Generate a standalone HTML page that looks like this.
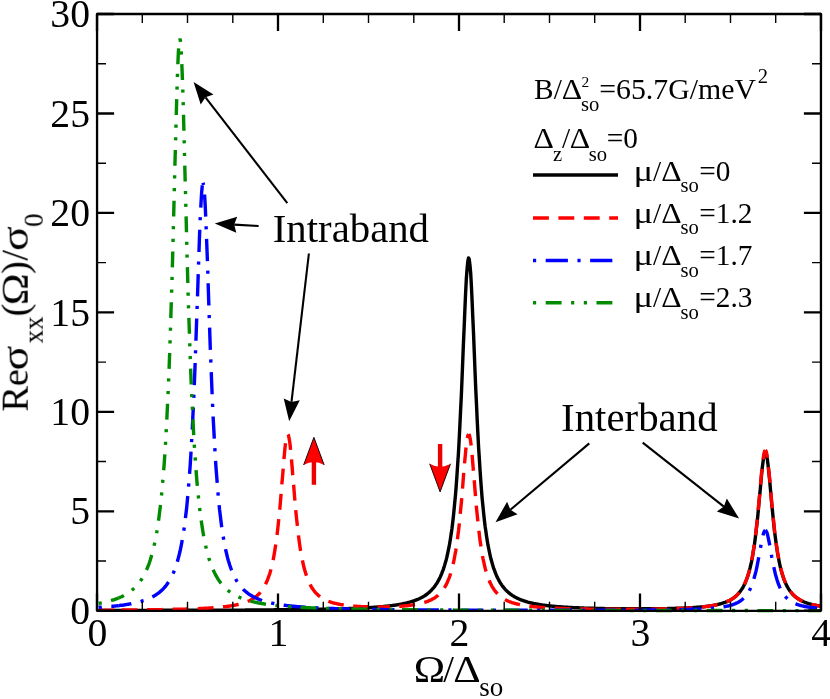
<!DOCTYPE html>
<html><head><meta charset="utf-8"><title>chart</title>
<style>
html,body{margin:0;padding:0;background:#fff;}
body{width:830px;height:699px;overflow:hidden;}
svg{display:block;}
text{font-family:"Liberation Serif",serif;fill:#000;}
</style></head><body>
<svg width="830" height="699" viewBox="0 0 830 699">
<rect x="0" y="0" width="830" height="699" fill="#fff"/>
<g fill="none" stroke-width="3.4" stroke-linejoin="round">
<path d="M98.7,610.5 L99.4,610.4 L100.1,610.4 L100.8,610.4 L101.6,610.4 L102.3,610.4 L103.0,610.4 L103.7,610.4 L104.5,610.4 L105.2,610.4 L105.9,610.4 L106.6,610.4 L107.4,610.4 L108.1,610.4 L108.8,610.4 L109.5,610.4 L110.3,610.4 L111.0,610.4 L111.7,610.4 L112.4,610.4 L113.2,610.4 L113.9,610.4 L114.6,610.4 L115.3,610.4 L116.0,610.4 L116.8,610.4 L117.5,610.4 L118.2,610.4 L118.9,610.4 L119.7,610.4 L120.4,610.4 L121.1,610.4 L121.8,610.4 L122.6,610.4 L123.3,610.4 L124.0,610.4 L124.7,610.4 L125.5,610.4 L126.2,610.4 L126.9,610.4 L127.6,610.4 L128.4,610.4 L129.1,610.4 L129.8,610.4 L130.5,610.4 L131.2,610.4 L132.0,610.4 L132.7,610.4 L133.4,610.4 L134.1,610.4 L134.9,610.4 L135.6,610.4 L136.3,610.4 L137.0,610.4 L137.8,610.4 L138.5,610.4 L139.2,610.4 L139.9,610.4 L140.7,610.4 L141.4,610.4 L142.1,610.4 L142.8,610.4 L143.5,610.4 L144.3,610.4 L145.0,610.4 L145.7,610.4 L146.4,610.4 L147.2,610.4 L147.9,610.4 L148.6,610.4 L149.3,610.4 L150.1,610.4 L150.8,610.4 L151.5,610.4 L152.2,610.4 L153.0,610.4 L153.7,610.4 L154.4,610.4 L155.1,610.4 L155.9,610.4 L156.6,610.4 L157.3,610.4 L158.0,610.4 L158.7,610.4 L159.5,610.3 L160.2,610.3 L160.9,610.3 L161.6,610.3 L162.4,610.3 L163.1,610.3 L163.8,610.3 L164.5,610.3 L165.3,610.3 L166.0,610.3 L166.7,610.3 L167.4,610.3 L168.2,610.3 L168.9,610.3 L169.6,610.3 L170.3,610.3 L171.1,610.3 L171.8,610.3 L172.5,610.3 L173.2,610.3 L173.9,610.3 L174.7,610.3 L175.4,610.3 L176.1,610.3 L176.8,610.3 L177.6,610.3 L178.3,610.3 L179.0,610.3 L179.7,610.3 L180.5,610.3 L181.2,610.3 L181.9,610.3 L182.6,610.3 L183.4,610.3 L184.1,610.3 L184.8,610.3 L185.5,610.3 L186.2,610.3 L187.0,610.3 L187.7,610.3 L188.4,610.3 L189.1,610.3 L189.9,610.3 L190.6,610.3 L191.3,610.3 L192.0,610.3 L192.8,610.3 L193.5,610.3 L194.2,610.3 L194.9,610.3 L195.7,610.3 L196.4,610.3 L197.1,610.3 L197.8,610.2 L198.6,610.2 L199.3,610.2 L200.0,610.2 L200.7,610.2 L201.4,610.2 L202.2,610.2 L202.9,610.2 L203.6,610.2 L204.3,610.2 L205.1,610.2 L205.8,610.2 L206.5,610.2 L207.2,610.2 L208.0,610.2 L208.7,610.2 L209.4,610.2 L210.1,610.2 L210.9,610.2 L211.6,610.2 L212.3,610.2 L213.0,610.2 L213.8,610.2 L214.5,610.2 L215.2,610.2 L215.9,610.2 L216.6,610.2 L217.4,610.2 L218.1,610.2 L218.8,610.2 L219.5,610.2 L220.3,610.2 L221.0,610.2 L221.7,610.2 L222.4,610.2 L223.2,610.2 L223.9,610.2 L224.6,610.2 L225.3,610.1 L226.1,610.1 L226.8,610.1 L227.5,610.1 L228.2,610.1 L228.9,610.1 L229.7,610.1 L230.4,610.1 L231.1,610.1 L231.8,610.1 L232.6,610.1 L233.3,610.1 L234.0,610.1 L234.7,610.1 L235.5,610.1 L236.2,610.1 L236.9,610.1 L237.6,610.1 L238.4,610.1 L239.1,610.1 L239.8,610.1 L240.5,610.1 L241.3,610.1 L242.0,610.1 L242.7,610.1 L243.4,610.1 L244.1,610.1 L244.9,610.1 L245.6,610.0 L246.3,610.0 L247.0,610.0 L247.8,610.0 L248.5,610.0 L249.2,610.0 L249.9,610.0 L250.7,610.0 L251.4,610.0 L252.1,610.0 L252.8,610.0 L253.6,610.0 L254.3,610.0 L255.0,610.0 L255.7,610.0 L256.4,610.0 L257.2,610.0 L257.9,610.0 L258.6,610.0 L259.3,610.0 L260.1,610.0 L260.8,610.0 L261.5,609.9 L262.2,609.9 L263.0,609.9 L263.7,609.9 L264.4,609.9 L265.1,609.9 L265.9,609.9 L266.6,609.9 L267.3,609.9 L268.0,609.9 L268.8,609.9 L269.5,609.9 L270.2,609.9 L270.9,609.9 L271.6,609.9 L272.4,609.9 L273.1,609.9 L273.8,609.9 L274.5,609.8 L275.3,609.8 L276.0,609.8 L276.7,609.8 L277.4,609.8 L278.2,609.8 L278.9,609.8 L279.6,609.8 L280.3,609.8 L281.1,609.8 L281.8,609.8 L282.5,609.8 L283.2,609.8 L284.0,609.8 L284.7,609.8 L285.4,609.7 L286.1,609.7 L286.8,609.7 L287.6,609.7 L288.3,609.7 L289.0,609.7 L289.7,609.7 L290.5,609.7 L291.2,609.7 L291.9,609.7 L292.6,609.7 L293.4,609.7 L294.1,609.7 L294.8,609.6 L295.5,609.6 L296.3,609.6 L297.0,609.6 L297.7,609.6 L298.4,609.6 L299.1,609.6 L299.9,609.6 L300.6,609.6 L301.3,609.6 L302.0,609.6 L302.8,609.5 L303.5,609.5 L304.2,609.5 L304.9,609.5 L305.7,609.5 L306.4,609.5 L307.1,609.5 L307.8,609.5 L308.6,609.5 L309.3,609.5 L310.0,609.4 L310.7,609.4 L311.5,609.4 L312.2,609.4 L312.9,609.4 L313.6,609.4 L314.3,609.4 L315.1,609.4 L315.8,609.4 L316.5,609.3 L317.2,609.3 L318.0,609.3 L318.7,609.3 L319.4,609.3 L320.1,609.3 L320.9,609.3 L321.6,609.2 L322.3,609.2 L323.0,609.2 L323.8,609.2 L324.5,609.2 L325.2,609.2 L325.9,609.2 L326.7,609.1 L327.4,609.1 L328.1,609.1 L328.8,609.1 L329.5,609.1 L330.3,609.1 L331.0,609.1 L331.7,609.0 L332.4,609.0 L333.2,609.0 L333.9,609.0 L334.6,609.0 L335.3,608.9 L336.1,608.9 L336.8,608.9 L337.5,608.9 L338.2,608.9 L339.0,608.8 L339.7,608.8 L340.4,608.8 L341.1,608.8 L341.8,608.8 L342.6,608.7 L343.3,608.7 L344.0,608.7 L344.7,608.7 L345.5,608.7 L346.2,608.6 L346.9,608.6 L347.6,608.6 L348.4,608.6 L349.1,608.5 L349.8,608.5 L350.5,608.5 L351.3,608.5 L352.0,608.4 L352.7,608.4 L353.4,608.4 L354.2,608.3 L354.9,608.3 L355.6,608.3 L356.3,608.3 L357.0,608.2 L357.8,608.2 L358.5,608.2 L359.2,608.1 L359.9,608.1 L360.7,608.1 L361.4,608.0 L362.1,608.0 L362.8,608.0 L363.6,607.9 L364.3,607.9 L365.0,607.8 L365.7,607.8 L366.5,607.8 L367.2,607.7 L367.9,607.7 L368.6,607.6 L369.3,607.6 L370.1,607.6 L370.8,607.5 L371.5,607.5 L372.2,607.4 L373.0,607.4 L373.7,607.3 L374.4,607.3 L375.1,607.2 L375.9,607.2 L376.6,607.1 L377.3,607.0 L378.0,607.0 L378.8,606.9 L379.5,606.9 L380.2,606.8 L380.9,606.8 L381.7,606.7 L382.4,606.6 L383.1,606.6 L383.8,606.5 L384.5,606.4 L385.3,606.3 L386.0,606.3 L386.7,606.2 L387.4,606.1 L388.2,606.0 L388.9,605.9 L389.6,605.9 L390.3,605.8 L391.1,605.7 L391.8,605.6 L392.5,605.5 L393.2,605.4 L394.0,605.3 L394.7,605.2 L395.4,605.1 L396.1,605.0 L396.9,604.9 L397.6,604.8 L398.3,604.6 L399.0,604.5 L399.7,604.4 L400.5,604.3 L401.2,604.1 L401.9,604.0 L402.6,603.8 L403.4,603.7 L404.1,603.5 L404.8,603.4 L405.5,603.2 L406.3,603.1 L407.0,602.9 L407.7,602.7 L408.4,602.5 L409.2,602.3 L409.9,602.1 L410.6,601.9 L411.3,601.7 L412.0,601.5 L412.8,601.2 L413.5,601.0 L414.2,600.7 L414.9,600.5 L415.7,600.2 L416.4,599.9 L417.1,599.6 L417.8,599.3 L418.6,599.0 L419.3,598.7 L420.0,598.3 L420.7,598.0 L421.5,597.6 L422.2,597.2 L422.9,596.8 L423.6,596.4 L424.4,595.9 L425.1,595.5 L425.8,595.0 L426.5,594.5 L427.2,593.9 L428.0,593.3 L428.7,592.7 L429.4,592.1 L430.1,591.5 L430.9,590.8 L431.6,590.0 L432.3,589.2 L433.0,588.4 L433.8,587.6 L434.5,586.6 L435.2,585.7 L435.9,584.6 L436.7,583.5 L437.4,582.4 L438.1,581.1 L438.8,579.8 L439.6,578.4 L440.3,576.9 L441.0,575.3 L441.7,573.6 L442.4,571.7 L443.2,569.8 L443.9,567.6 L444.6,565.4 L445.3,562.9 L446.1,560.2 L446.8,557.4 L447.5,554.2 L448.2,550.9 L449.0,547.2 L449.7,543.2 L450.4,538.9 L451.1,534.2 L451.9,529.0 L452.6,523.4 L453.3,517.2 L454.0,510.4 L454.7,503.0 L455.5,494.9 L456.2,486.0 L456.9,476.2 L457.6,465.5 L458.4,453.8 L459.1,441.0 L459.8,427.2 L460.5,412.3 L461.3,396.4 L462.0,379.5 L462.7,362.0 L463.4,344.1 L464.2,326.3 L464.9,309.1 L465.6,293.2 L466.3,279.4 L467.1,268.6 L467.8,261.3 L468.5,258.0 L469.2,259.1 L469.9,264.4 L470.7,273.5 L471.4,285.9 L472.1,300.8 L472.8,317.4 L473.6,335.0 L474.3,352.9 L475.0,370.7 L475.7,387.9 L476.5,404.3 L477.2,419.8 L477.9,434.1 L478.6,447.4 L479.4,459.6 L480.1,470.8 L480.8,481.1 L481.5,490.4 L482.2,499.0 L483.0,506.7 L483.7,513.8 L484.4,520.3 L485.1,526.2 L485.9,531.6 L486.6,536.5 L487.3,541.0 L488.0,545.2 L488.8,549.0 L489.5,552.5 L490.2,555.8 L490.9,558.8 L491.7,561.5 L492.4,564.1 L493.1,566.4 L493.8,568.7 L494.6,570.7 L495.3,572.6 L496.0,574.4 L496.7,576.0 L497.4,577.6 L498.2,579.0 L498.9,580.4 L499.6,581.7 L500.3,582.9 L501.1,584.0 L501.8,585.1 L502.5,586.1 L503.2,587.0 L504.0,587.9 L504.7,588.8 L505.4,589.6 L506.1,590.3 L506.9,591.0 L507.6,591.7 L508.3,592.3 L509.0,593.0 L509.8,593.5 L510.5,594.1 L511.2,594.6 L511.9,595.1 L512.6,595.6 L513.4,596.1 L514.1,596.5 L514.8,596.9 L515.5,597.3 L516.3,597.7 L517.0,598.1 L517.7,598.4 L518.4,598.7 L519.2,599.1 L519.9,599.4 L520.6,599.7 L521.3,600.0 L522.1,600.2 L522.8,600.5 L523.5,600.7 L524.2,601.0 L524.9,601.2 L525.7,601.5 L526.4,601.7 L527.1,601.9 L527.8,602.1 L528.6,602.3 L529.3,602.5 L530.0,602.6 L530.7,602.8 L531.5,603.0 L532.2,603.2 L532.9,603.3 L533.6,603.5 L534.4,603.6 L535.1,603.8 L535.8,603.9 L536.5,604.0 L537.3,604.2 L538.0,604.3 L538.7,604.4 L539.4,604.5 L540.1,604.6 L540.9,604.8 L541.6,604.9 L542.3,605.0 L543.0,605.1 L543.8,605.2 L544.5,605.3 L545.2,605.4 L545.9,605.5 L546.7,605.5 L547.4,605.6 L548.1,605.7 L548.8,605.8 L549.6,605.9 L550.3,606.0 L551.0,606.0 L551.7,606.1 L552.5,606.2 L553.2,606.2 L553.9,606.3 L554.6,606.4 L555.3,606.4 L556.1,606.5 L556.8,606.6 L557.5,606.6 L558.2,606.7 L559.0,606.7 L559.7,606.8 L560.4,606.8 L561.1,606.9 L561.9,606.9 L562.6,607.0 L563.3,607.0 L564.0,607.1 L564.8,607.1 L565.5,607.2 L566.2,607.2 L566.9,607.3 L567.6,607.3 L568.4,607.4 L569.1,607.4 L569.8,607.4 L570.5,607.5 L571.3,607.5 L572.0,607.5 L572.7,607.6 L573.4,607.6 L574.2,607.7 L574.9,607.7 L575.6,607.7 L576.3,607.8 L577.1,607.8 L577.8,607.8 L578.5,607.8 L579.2,607.9 L580.0,607.9 L580.7,607.9 L581.4,608.0 L582.1,608.0 L582.8,608.0 L583.6,608.0 L584.3,608.1 L585.0,608.1 L585.7,608.1 L586.5,608.1 L587.2,608.2 L587.9,608.2 L588.6,608.2 L589.4,608.2 L590.1,608.2 L590.8,608.3 L591.5,608.3 L592.3,608.3 L593.0,608.3 L593.7,608.3 L594.4,608.4 L595.1,608.4 L595.9,608.4 L596.6,608.4 L597.3,608.4 L598.0,608.4 L598.8,608.4 L599.5,608.5 L600.2,608.5 L600.9,608.5 L601.7,608.5 L602.4,608.5 L603.1,608.5 L603.8,608.5 L604.6,608.6 L605.3,608.6 L606.0,608.6 L606.7,608.6 L607.5,608.6 L608.2,608.6 L608.9,608.6 L609.6,608.6 L610.3,608.7 L611.1,608.7 L611.8,608.7 L612.5,608.7 L613.2,608.7 L614.0,608.7 L614.7,608.7 L615.4,608.7 L616.1,608.7 L616.9,608.7 L617.6,608.7 L618.3,608.7 L619.0,608.7 L619.8,608.8 L620.5,608.8 L621.2,608.8 L621.9,608.8 L622.7,608.8 L623.4,608.8 L624.1,608.8 L624.8,608.8 L625.5,608.8 L626.3,608.8 L627.0,608.8 L627.7,608.8 L628.4,608.8 L629.2,608.8 L629.9,608.8 L630.6,608.8 L631.3,608.8 L632.1,608.8 L632.8,608.8 L633.5,608.8 L634.2,608.8 L635.0,608.8 L635.7,608.8 L636.4,608.8 L637.1,608.8 L637.8,608.8 L638.6,608.8 L639.3,608.8 L640.0,608.8 L640.7,608.8 L641.5,608.8 L642.2,608.8 L642.9,608.8 L643.6,608.8 L644.4,608.8 L645.1,608.8 L645.8,608.8 L646.5,608.8 L647.3,608.8 L648.0,608.8 L648.7,608.8 L649.4,608.8 L650.2,608.8 L650.9,608.8 L651.6,608.8 L652.3,608.8 L653.0,608.8 L653.8,608.8 L654.5,608.7 L655.2,608.7 L655.9,608.7 L656.7,608.7 L657.4,608.7 L658.1,608.7 L658.8,608.7 L659.6,608.7 L660.3,608.7 L661.0,608.7 L661.7,608.7 L662.5,608.6 L663.2,608.6 L663.9,608.6 L664.6,608.6 L665.4,608.6 L666.1,608.6 L666.8,608.6 L667.5,608.5 L668.2,608.5 L669.0,608.5 L669.7,608.5 L670.4,608.5 L671.1,608.5 L671.9,608.4 L672.6,608.4 L673.3,608.4 L674.0,608.4 L674.8,608.4 L675.5,608.3 L676.2,608.3 L676.9,608.3 L677.7,608.3 L678.4,608.3 L679.1,608.2 L679.8,608.2 L680.5,608.2 L681.3,608.2 L682.0,608.1 L682.7,608.1 L683.4,608.1 L684.2,608.0 L684.9,608.0 L685.6,608.0 L686.3,607.9 L687.1,607.9 L687.8,607.9 L688.5,607.8 L689.2,607.8 L690.0,607.8 L690.7,607.7 L691.4,607.7 L692.1,607.6 L692.9,607.6 L693.6,607.5 L694.3,607.5 L695.0,607.4 L695.7,607.4 L696.5,607.3 L697.2,607.3 L697.9,607.2 L698.6,607.2 L699.4,607.1 L700.1,607.0 L700.8,607.0 L701.5,606.9 L702.3,606.8 L703.0,606.8 L703.7,606.7 L704.4,606.6 L705.2,606.5 L705.9,606.4 L706.6,606.4 L707.3,606.3 L708.0,606.2 L708.8,606.1 L709.5,606.0 L710.2,605.9 L710.9,605.8 L711.7,605.6 L712.4,605.5 L713.1,605.4 L713.8,605.3 L714.6,605.1 L715.3,605.0 L716.0,604.9 L716.7,604.7 L717.5,604.5 L718.2,604.4 L718.9,604.2 L719.6,604.0 L720.4,603.8 L721.1,603.6 L721.8,603.4 L722.5,603.2 L723.2,603.0 L724.0,602.7 L724.7,602.5 L725.4,602.2 L726.1,601.9 L726.9,601.6 L727.6,601.3 L728.3,601.0 L729.0,600.7 L729.8,600.3 L730.5,599.9 L731.2,599.5 L731.9,599.1 L732.7,598.6 L733.4,598.1 L734.1,597.6 L734.8,597.0 L735.6,596.4 L736.3,595.8 L737.0,595.1 L737.7,594.4 L738.4,593.6 L739.2,592.8 L739.9,591.9 L740.6,590.9 L741.3,589.9 L742.1,588.8 L742.8,587.6 L743.5,586.3 L744.2,584.9 L745.0,583.4 L745.7,581.7 L746.4,579.9 L747.1,578.0 L747.9,575.8 L748.6,573.5 L749.3,571.0 L750.0,568.2 L750.7,565.1 L751.5,561.8 L752.2,558.1 L752.9,554.0 L753.6,549.6 L754.4,544.8 L755.1,539.5 L755.8,533.7 L756.5,527.5 L757.3,520.8 L758.0,513.6 L758.7,506.0 L759.4,498.1 L760.2,490.1 L760.9,482.1 L761.6,474.4 L762.3,467.4 L763.1,461.4 L763.8,456.6 L764.5,453.5 L765.2,452.3 L765.9,452.9 L766.7,455.5 L767.4,459.7 L768.1,465.4 L768.8,472.2 L769.6,479.7 L770.3,487.6 L771.0,495.6 L771.7,503.6 L772.5,511.3 L773.2,518.6 L773.9,525.5 L774.6,531.9 L775.4,537.8 L776.1,543.2 L776.8,548.2 L777.5,552.8 L778.3,556.9 L779.0,560.7 L779.7,564.2 L780.4,567.3 L781.1,570.2 L781.9,572.8 L782.6,575.2 L783.3,577.4 L784.0,579.4 L784.8,581.3 L785.5,583.0 L786.2,584.5 L786.9,586.0 L787.7,587.3 L788.4,588.6 L789.1,589.7 L789.8,590.7 L790.6,591.7 L791.3,592.6 L792.0,593.5 L792.7,594.3 L793.4,595.0 L794.2,595.7 L794.9,596.4 L795.6,597.0 L796.3,597.6 L797.1,598.1 L797.8,598.6 L798.5,599.1 L799.2,599.5 L800.0,599.9 L800.7,600.3 L801.4,600.7 L802.1,601.1 L802.9,601.4 L803.6,601.7 L804.3,602.0 L805.0,602.3 L805.8,602.6 L806.5,602.9 L807.2,603.1 L807.9,603.3 L808.6,603.6 L809.4,603.8 L810.1,604.0 L810.8,604.2 L811.5,604.4 L812.3,604.6 L813.0,604.7 L813.7,604.9 L814.4,605.1 L815.2,605.2 L815.9,605.3 L816.6,605.5 L817.3,605.6 L818.1,605.8 L818.8,605.9 L819.5,606.0 L820.2,606.1 L821.0,606.2" stroke="#000"/>
<path d="M98.7,610.1 L99.4,610.1 L100.1,610.1 L100.8,610.1 L101.5,610.1 L102.3,610.1 L103.0,610.1 L103.7,610.1 L104.4,610.1 L105.1,610.1 L105.9,610.1 L106.6,610.1 L107.3,610.1 L108.0,610.1 L108.7,610.1 L109.4,610.1 L110.2,610.1 L110.9,610.1 L111.6,610.1 L112.3,610.1 L113.0,610.1 L113.7,610.1 L114.5,610.1 L115.2,610.0 L115.9,610.0 L116.6,610.0 L117.3,610.0 L118.0,610.0 L118.8,610.0" stroke="#ff0000" stroke-dasharray="15.88 9.52"/>
<path d="M118.8,610.0 L119.5,610.0 L120.2,610.0 L120.9,610.0 L121.7,610.0 L122.4,610.0 L123.1,610.0 L123.8,610.0 L124.5,610.0 L125.3,610.0 L126.0,610.0 L126.7,610.0 L127.4,610.0 L128.2,610.0 L128.9,609.9 L129.6,609.9 L130.3,609.9 L131.0,609.9 L131.8,609.9 L132.5,609.9 L133.2,609.9 L133.9,609.9 L134.7,609.9 L135.4,609.9 L136.1,609.9 L136.8,609.9 L137.5,609.9 L138.3,609.9 L139.0,609.9 L139.7,609.8 L140.4,609.8 L141.1,609.8 L141.9,609.8 L142.6,609.8 L143.3,609.8 L144.0,609.8 L144.8,609.8 L145.5,609.8 L146.2,609.8 L146.9,609.8 L147.6,609.8 L148.4,609.7 L149.1,609.7 L149.8,609.7 L150.5,609.7 L151.3,609.7 L152.0,609.7 L152.7,609.7 L153.4,609.7 L154.1,609.7 L154.9,609.7 L155.6,609.7 L156.3,609.6 L157.0,609.6 L157.8,609.6 L158.5,609.6 L159.2,609.6 L159.9,609.6 L160.6,609.6 L161.4,609.6 L162.1,609.6 L162.8,609.5 L163.5,609.5 L164.3,609.5 L165.0,609.5 L165.7,609.5 L166.4,609.5 L167.1,609.5 L167.9,609.5 L168.6,609.4 L169.3,609.4 L170.0,609.4 L170.7,609.4 L171.5,609.4 L172.2,609.4 L172.9,609.4 L173.6,609.3 L174.4,609.3 L175.1,609.3 L175.8,609.3 L176.5,609.3 L177.2,609.3 L178.0,609.2 L178.7,609.2 L179.4,609.2 L180.1,609.2 L180.9,609.2 L181.6,609.2 L182.3,609.1 L183.0,609.1 L183.7,609.1 L184.5,609.1 L185.2,609.1 L185.9,609.0 L186.6,609.0 L187.4,609.0 L188.1,609.0 L188.8,608.9 L189.5,608.9 L190.2,608.9 L191.0,608.9 L191.7,608.9 L192.4,608.8 L193.1,608.8 L193.9,608.8 L194.6,608.7 L195.3,608.7 L196.0,608.7 L196.7,608.7 L197.5,608.6 L198.2,608.6 L198.9,608.6 L199.6,608.5 L200.3,608.5 L201.1,608.5 L201.8,608.4 L202.5,608.4 L203.2,608.4 L204.0,608.3 L204.7,608.3 L205.4,608.3 L206.1,608.2 L206.8,608.2 L207.6,608.1 L208.3,608.1 L209.0,608.0 L209.7,608.0 L210.5,608.0 L211.2,607.9 L211.9,607.9 L212.6,607.8 L213.3,607.8 L214.1,607.7 L214.8,607.6 L215.5,607.6 L216.2,607.5 L217.0,607.5 L217.7,607.4 L218.4,607.3 L219.1,607.3 L219.8,607.2 L220.6,607.1 L221.3,607.1 L222.0,607.0 L222.7,606.9 L223.5,606.8 L224.2,606.8 L224.9,606.7 L225.6,606.6 L226.3,606.5 L227.1,606.4 L227.8,606.3 L228.5,606.2 L229.2,606.1 L229.9,606.0 L230.7,605.9 L231.4,605.8 L232.1,605.7 L232.8,605.5 L233.6,605.4 L234.3,605.3 L235.0,605.1 L235.7,605.0 L236.4,604.8 L237.2,604.7 L237.9,604.5 L238.6,604.4 L239.3,604.2 L240.1,604.0 L240.8,603.8 L241.5,603.6 L242.2,603.4 L242.9,603.2 L243.7,602.9 L244.4,602.7 L245.1,602.5 L245.8,602.2 L246.6,601.9 L247.3,601.6 L248.0,601.3 L248.7,601.0 L249.4,600.7 L250.2,600.3 L250.9,599.9 L251.6,599.5 L252.3,599.1 L253.1,598.7 L253.8,598.2 L254.5,597.7 L255.2,597.2 L255.9,596.6 L256.7,596.0 L257.4,595.4 L258.1,594.7 L258.8,594.0 L259.6,593.2 L260.3,592.4 L261.0,591.5 L261.7,590.6 L262.4,589.6 L263.2,588.5 L263.9,587.3 L264.6,586.1 L265.3,584.7 L266.0,583.2 L266.8,581.6 L267.5,579.9 L268.2,578.0 L268.9,576.0 L269.7,573.8 L270.4,571.4 L271.1,568.7 L271.8,565.8 L272.5,562.7 L273.3,559.2 L274.0,555.4 L274.7,551.2 L275.4,546.7 L276.2,541.6 L276.9,536.2 L277.6,530.2 L278.3,523.7 L279.0,516.6 L279.8,509.1 L280.5,501.0 L281.2,492.5 L281.9,483.7 L282.7,474.8 L283.4,466.0 L284.1,457.5 L284.8,449.9 L285.5,443.4 L286.3,438.4 L287.0,435.2 L287.7,434.2" stroke="#ff0000" stroke-dasharray="15.88 9.52" stroke-dashoffset="22.58"/>
<path d="M287.7,434.2 L288.4,435.2 L289.1,438.3 L289.9,443.3 L290.6,449.7 L291.3,457.3 L292.0,465.7 L292.7,474.5 L293.5,483.3 L294.2,492.1 L294.9,500.6 L295.6,508.6 L296.3,516.2 L297.1,523.2 L297.8,529.7 L298.5,535.7 L299.2,541.2 L299.9,546.2 L300.6,550.7 L301.4,554.9 L302.1,558.7 L302.8,562.2 L303.5,565.4 L304.2,568.3 L305.0,570.9 L305.7,573.3 L306.4,575.6 L307.1,577.6 L307.8,579.5 L308.6,581.2 L309.3,582.8 L310.0,584.3 L310.7,585.6 L311.4,586.9 L312.1,588.1 L312.9,589.1 L313.6,590.1 L314.3,591.1 L315.0,592.0 L315.7,592.8 L316.5,593.5 L317.2,594.3 L317.9,594.9 L318.6,595.6 L319.3,596.1 L320.1,596.7 L320.8,597.2 L321.5,597.7 L322.2,598.2 L322.9,598.6 L323.6,599.0 L324.4,599.4 L325.1,599.8 L325.8,600.1 L326.5,600.5 L327.2,600.8 L328.0,601.1 L328.7,601.4 L329.4,601.6 L330.1,601.9 L330.8,602.1 L331.6,602.4 L332.3,602.6 L333.0,602.8 L333.7,603.0 L334.4,603.2 L335.2,603.4 L335.9,603.5 L336.6,603.7 L337.3,603.9 L338.0,604.0 L338.7,604.2 L339.5,604.3 L340.2,604.4 L340.9,604.6 L341.6,604.7 L342.3,604.8 L343.1,604.9 L343.8,605.0 L344.5,605.1 L345.2,605.2 L345.9,605.3 L346.7,605.4 L347.4,605.5 L348.1,605.6 L348.8,605.7 L349.5,605.7 L350.2,605.8 L351.0,605.9 L351.7,605.9 L352.4,606.0 L353.1,606.1 L353.8,606.1 L354.6,606.2 L355.3,606.2 L356.0,606.3 L356.7,606.3 L357.4,606.4 L358.2,606.4 L358.9,606.5 L359.6,606.5 L360.3,606.5 L361.0,606.6 L361.7,606.6 L362.5,606.7 L363.2,606.7 L363.9,606.7 L364.6,606.7 L365.3,606.8 L366.1,606.8 L366.8,606.8 L367.5,606.8 L368.2,606.9 L368.9,606.9 L369.7,606.9 L370.4,606.9 L371.1,606.9 L371.8,606.9 L372.5,606.9 L373.2,607.0 L374.0,607.0 L374.7,607.0 L375.4,607.0 L376.1,607.0 L376.8,607.0 L377.6,607.0" stroke="#ff0000" stroke-dasharray="15.88 9.52" stroke-dashoffset="25.11"/>
<path d="M377.6,607.0 L378.3,607.0 L379.0,607.0 L379.7,607.0 L380.5,607.0 L381.2,607.0 L381.9,607.0 L382.6,607.0 L383.3,606.9 L384.1,606.9 L384.8,606.9 L385.5,606.9 L386.2,606.9 L387.0,606.9 L387.7,606.9 L388.4,606.8 L389.1,606.8 L389.9,606.8 L390.6,606.8 L391.3,606.7 L392.0,606.7 L392.7,606.7 L393.5,606.7 L394.2,606.6 L394.9,606.6 L395.6,606.6 L396.4,606.5 L397.1,606.5 L397.8,606.4 L398.5,606.4 L399.3,606.3 L400.0,606.3 L400.7,606.2 L401.4,606.2 L402.1,606.1 L402.9,606.1 L403.6,606.0 L404.3,606.0 L405.0,605.9 L405.8,605.8 L406.5,605.7 L407.2,605.7 L407.9,605.6 L408.7,605.5 L409.4,605.4 L410.1,605.3 L410.8,605.2 L411.6,605.1 L412.3,605.0 L413.0,604.9 L413.7,604.8 L414.4,604.7 L415.2,604.6 L415.9,604.5 L416.6,604.3 L417.3,604.2 L418.1,604.0 L418.8,603.9 L419.5,603.7 L420.2,603.6 L421.0,603.4 L421.7,603.2 L422.4,603.0 L423.1,602.8 L423.8,602.6 L424.6,602.4 L425.3,602.2 L426.0,601.9 L426.7,601.7 L427.5,601.4 L428.2,601.1 L428.9,600.8 L429.6,600.5 L430.4,600.2 L431.1,599.9 L431.8,599.5 L432.5,599.1 L433.2,598.7 L434.0,598.3 L434.7,597.8 L435.4,597.3 L436.1,596.8 L436.9,596.2 L437.6,595.7 L438.3,595.0 L439.0,594.4 L439.8,593.7 L440.5,592.9 L441.2,592.1 L441.9,591.2 L442.6,590.3 L443.4,589.3 L444.1,588.2 L444.8,587.1 L445.5,585.8 L446.3,584.5 L447.0,583.0 L447.7,581.4 L448.4,579.7 L449.2,577.8 L449.9,575.8 L450.6,573.6 L451.3,571.2 L452.0,568.6 L452.8,565.7 L453.5,562.5 L454.2,559.1 L454.9,555.3 L455.7,551.1 L456.4,546.6 L457.1,541.6 L457.8,536.1 L458.6,530.2 L459.3,523.7 L460.0,516.6 L460.7,509.1 L461.5,501.0 L462.2,492.5 L462.9,483.7 L463.6,474.7 L464.3,465.9 L465.1,457.5 L465.8,449.8 L466.5,443.3 L467.2,438.3 L468.0,435.1 L468.7,434.1" stroke="#ff0000" stroke-dasharray="15.88 9.52" stroke-dashoffset="3.69"/>
<path d="M468.7,434.1 L469.4,435.1 L470.1,438.3 L470.9,443.3 L471.6,449.8 L472.3,457.5 L473.0,465.9 L473.7,474.7 L474.5,483.7 L475.2,492.5 L475.9,501.0 L476.6,509.1 L477.4,516.6 L478.1,523.7 L478.8,530.2 L479.5,536.1 L480.2,541.6 L481.0,546.6 L481.7,551.2 L482.4,555.3 L483.1,559.1 L483.9,562.6 L484.6,565.8 L485.3,568.7 L486.0,571.3 L486.7,573.7 L487.5,575.9 L488.2,578.0 L488.9,579.8 L489.6,581.6 L490.4,583.1 L491.1,584.6 L491.8,586.0 L492.5,587.2 L493.3,588.4 L494.0,589.5 L494.7,590.5 L495.4,591.4 L496.1,592.3 L496.9,593.1 L497.6,593.9 L498.3,594.6 L499.0,595.3 L499.8,595.9 L500.5,596.5 L501.2,597.1 L501.9,597.6 L502.6,598.1 L503.4,598.5 L504.1,599.0 L504.8,599.4 L505.5,599.8 L506.3,600.2 L507.0,600.5 L507.7,600.9 L508.4,601.2 L509.1,601.5 L509.9,601.8 L510.6,602.0 L511.3,602.3 L512.0,602.6 L512.8,602.8 L513.5,603.0 L514.2,603.2 L514.9,603.5 L515.7,603.6 L516.4,603.8 L517.1,604.0 L517.8,604.2 L518.5,604.4 L519.3,604.5 L520.0,604.7 L520.7,604.8 L521.4,605.0 L522.2,605.1 L522.9,605.2 L523.6,605.4 L524.3,605.5 L525.0,605.6 L525.8,605.7 L526.5,605.8 L527.2,605.9 L527.9,606.0 L528.7,606.1 L529.4,606.2 L530.1,606.3 L530.8,606.4 L531.6,606.5 L532.3,606.6 L533.0,606.6 L533.7,606.7 L534.4,606.8 L535.2,606.9 L535.9,606.9 L536.6,607.0 L537.3,607.1 L538.1,607.1 L538.8,607.2 L539.5,607.3 L540.2,607.3 L540.9,607.4 L541.7,607.4 L542.4,607.5 L543.1,607.5 L543.8,607.6 L544.6,607.6 L545.3,607.7 L546.0,607.7 L546.7,607.8 L547.4,607.8 L548.2,607.8 L548.9,607.9 L549.6,607.9 L550.3,608.0 L551.1,608.0 L551.8,608.0 L552.5,608.1 L553.2,608.1 L554.0,608.1 L554.7,608.2 L555.4,608.2 L556.1,608.2 L556.8,608.3 L557.6,608.3 L558.3,608.3 L559.0,608.4 L559.7,608.4 L560.5,608.4 L561.2,608.4 L561.9,608.5 L562.6,608.5 L563.3,608.5 L564.1,608.5 L564.8,608.6 L565.5,608.6 L566.2,608.6 L567.0,608.6 L567.7,608.6 L568.4,608.7 L569.1,608.7 L569.8,608.7 L570.6,608.7 L571.3,608.7 L572.0,608.8 L572.7,608.8 L573.5,608.8 L574.2,608.8 L574.9,608.8 L575.6,608.8 L576.4,608.9 L577.1,608.9 L577.8,608.9 L578.5,608.9 L579.2,608.9 L580.0,608.9 L580.7,608.9 L581.4,609.0 L582.1,609.0 L582.9,609.0 L583.6,609.0 L584.3,609.0 L585.0,609.0 L585.7,609.0 L586.5,609.0 L587.2,609.0 L587.9,609.1 L588.6,609.1 L589.4,609.1 L590.1,609.1 L590.8,609.1 L591.5,609.1 L592.3,609.1 L593.0,609.1 L593.7,609.1 L594.4,609.1 L595.1,609.1 L595.9,609.1 L596.6,609.2 L597.3,609.2 L598.0,609.2 L598.8,609.2 L599.5,609.2 L600.2,609.2 L600.9,609.2 L601.6,609.2 L602.4,609.2 L603.1,609.2 L603.8,609.2 L604.5,609.2 L605.3,609.2 L606.0,609.2 L606.7,609.2 L607.4,609.2 L608.1,609.2 L608.9,609.2 L609.6,609.2 L610.3,609.2 L611.0,609.2 L611.8,609.3 L612.5,609.3 L613.2,609.3 L613.9,609.3 L614.7,609.3 L615.4,609.3 L616.1,609.3 L616.8,609.3 L617.5,609.3 L618.3,609.3 L619.0,609.3 L619.7,609.3 L620.4,609.3 L621.2,609.3 L621.9,609.3" stroke="#ff0000" stroke-dasharray="15.88 9.52" stroke-dashoffset="4.16"/>
<path d="M621.9,609.3 L622.6,609.3 L623.3,609.3 L624.0,609.3 L624.8,609.3 L625.5,609.3 L626.2,609.3 L626.9,609.3 L627.6,609.3 L628.4,609.3 L629.1,609.3 L629.8,609.3 L630.5,609.3 L631.2,609.3 L632.0,609.2 L632.7,609.2 L633.4,609.2 L634.1,609.2 L634.9,609.2 L635.6,609.2 L636.3,609.2 L637.0,609.2 L637.7,609.2 L638.5,609.2 L639.2,609.2 L639.9,609.2 L640.6,609.2 L641.3,609.2 L642.1,609.2 L642.8,609.2 L643.5,609.2 L644.2,609.2 L644.9,609.2 L645.7,609.2 L646.4,609.2 L647.1,609.1 L647.8,609.1 L648.6,609.1 L649.3,609.1 L650.0,609.1 L650.7,609.1 L651.4,609.1 L652.2,609.1 L652.9,609.1 L653.6,609.1 L654.3,609.1 L655.0,609.0 L655.8,609.0 L656.5,609.0 L657.2,609.0 L657.9,609.0 L658.6,609.0 L659.4,609.0 L660.1,609.0 L660.8,608.9 L661.5,608.9 L662.2,608.9 L663.0,608.9 L663.7,608.9 L664.4,608.9 L665.1,608.9 L665.9,608.8 L666.6,608.8 L667.3,608.8 L668.0,608.8 L668.7,608.8 L669.5,608.8 L670.2,608.7 L670.9,608.7 L671.6,608.7 L672.3,608.7 L673.1,608.7 L673.8,608.6 L674.5,608.6 L675.2,608.6 L675.9,608.6 L676.7,608.5 L677.4,608.5 L678.1,608.5 L678.8,608.5 L679.5,608.4 L680.3,608.4 L681.0,608.4 L681.7,608.3 L682.4,608.3 L683.2,608.3 L683.9,608.2 L684.6,608.2 L685.3,608.2 L686.0,608.1 L686.8,608.1 L687.5,608.1 L688.2,608.0 L688.9,608.0 L689.6,608.0 L690.4,607.9 L691.1,607.9 L691.8,607.8 L692.5,607.8 L693.2,607.7 L694.0,607.7 L694.7,607.6 L695.4,607.6 L696.1,607.5 L696.9,607.5 L697.6,607.4 L698.3,607.3 L699.0,607.3 L699.7,607.2 L700.5,607.2 L701.2,607.1 L701.9,607.0 L702.6,606.9 L703.3,606.9 L704.1,606.8 L704.8,606.7 L705.5,606.6 L706.2,606.5 L706.9,606.4 L707.7,606.3 L708.4,606.3 L709.1,606.2 L709.8,606.0 L710.5,605.9 L711.3,605.8 L712.0,605.7 L712.7,605.6 L713.4,605.5 L714.2,605.3 L714.9,605.2 L715.6,605.0 L716.3,604.9 L717.0,604.7 L717.8,604.6 L718.5,604.4 L719.2,604.2 L719.9,604.0 L720.6,603.8 L721.4,603.6 L722.1,603.4 L722.8,603.2 L723.5,602.9 L724.2,602.7 L725.0,602.4 L725.7,602.2 L726.4,601.9 L727.1,601.6 L727.8,601.2 L728.6,600.9 L729.3,600.5 L730.0,600.2 L730.7,599.8 L731.5,599.3 L732.2,598.9 L732.9,598.4 L733.6,597.9 L734.3,597.4 L735.1,596.8 L735.8,596.2 L736.5,595.5 L737.2,594.8 L737.9,594.1 L738.7,593.3 L739.4,592.4 L740.1,591.5 L740.8,590.5 L741.5,589.5 L742.3,588.3 L743.0,587.1 L743.7,585.7 L744.4,584.3 L745.2,582.7 L745.9,581.0 L746.6,579.1 L747.3,577.1 L748.0,574.9 L748.8,572.5 L749.5,569.9 L750.2,567.0 L750.9,563.8 L751.6,560.4 L752.4,556.6 L753.1,552.4 L753.8,547.9 L754.5,542.9 L755.2,537.4 L756.0,531.5 L756.7,525.1 L757.4,518.2 L758.1,510.9 L758.8,503.2 L759.6,495.2 L760.3,487.0 L761.0,479.0 L761.7,471.4 L762.5,464.4 L763.2,458.5 L763.9,454.0 L764.6,451.1 L765.3,450.2" stroke="#ff0000" stroke-dasharray="15.88 9.52" stroke-dashoffset="21.56"/>
<path d="M765.3,450.2 L766.1,451.1 L766.8,454.0 L767.5,458.5 L768.2,464.5 L768.9,471.4 L769.7,479.1 L770.4,487.2 L771.1,495.3 L771.8,503.3 L772.6,511.0 L773.3,518.4 L774.0,525.3 L774.7,531.7 L775.4,537.6 L776.2,543.1 L776.9,548.0 L777.6,552.6 L778.3,556.8 L779.1,560.5 L779.8,564.0 L780.5,567.2 L781.2,570.0 L781.9,572.7 L782.7,575.1 L783.4,577.3 L784.1,579.3 L784.8,581.1 L785.6,582.9 L786.3,584.4 L787.0,585.9 L787.7,587.2 L788.4,588.4 L789.2,589.6 L789.9,590.7 L790.6,591.6 L791.3,592.6 L792.1,593.4 L792.8,594.2 L793.5,595.0 L794.2,595.7 L794.9,596.3 L795.7,596.9 L796.4,597.5 L797.1,598.0 L797.8,598.5 L798.6,599.0 L799.3,599.5 L800.0,599.9 L800.7,600.3 L801.4,600.7 L802.2,601.0 L802.9,601.4 L803.6,601.7 L804.3,602.0 L805.1,602.3 L805.8,602.6 L806.5,602.8 L807.2,603.1 L807.9,603.3 L808.7,603.6 L809.4,603.8 L810.1,604.0 L810.8,604.2 L811.6,604.4 L812.3,604.6 L813.0,604.7 L813.7,604.9 L814.4,605.1 L815.2,605.2 L815.9,605.4 L816.6,605.5 L817.3,605.6 L818.1,605.8 L818.8,605.9 L819.5,606.0 L820.2,606.1 L821.0,606.2" stroke="#ff0000" stroke-dasharray="15.88 9.52" stroke-dashoffset="7.97"/>
<path d="M98.7,607.4 L99.4,607.3 L100.1,607.3 L100.8,607.2 L101.5,607.2 L102.3,607.1 L103.0,607.1 L103.7,607.0 L104.4,607.0 L105.1,606.9 L105.9,606.9 L106.6,606.8 L107.3,606.7 L108.0,606.7 L108.7,606.6 L109.4,606.6 L110.2,606.5 L110.9,606.4 L111.6,606.4 L112.3,606.3 L113.0,606.2 L113.7,606.2 L114.5,606.1 L115.2,606.0 L115.9,605.9 L116.6,605.9 L117.3,605.8 L118.0,605.7 L118.8,605.6" stroke="#0000ff" stroke-dasharray="3.17 9.52 22.22 9.52"/>
<path d="M118.8,605.6 L119.5,605.5 L120.2,605.4 L120.9,605.3 L121.6,605.2 L122.4,605.2 L123.1,605.1 L123.8,605.0 L124.5,604.8 L125.2,604.7 L126.0,604.6 L126.7,604.5 L127.4,604.4 L128.1,604.3 L128.8,604.2 L129.6,604.0 L130.3,603.9 L131.0,603.8 L131.7,603.6 L132.4,603.5 L133.2,603.3 L133.9,603.2 L134.6,603.0 L135.3,602.9 L136.0,602.7 L136.8,602.5 L137.5,602.4 L138.2,602.2 L138.9,602.0 L139.6,601.8 L140.4,601.6 L141.1,601.4 L141.8,601.2 L142.5,600.9 L143.2,600.7 L144.0,600.5 L144.7,600.2 L145.4,600.0 L146.1,599.7 L146.8,599.4 L147.6,599.1 L148.3,598.8 L149.0,598.5 L149.7,598.2 L150.4,597.9 L151.2,597.5 L151.9,597.2 L152.6,596.8 L153.3,596.4 L154.0,596.0 L154.8,595.6 L155.5,595.1 L156.2,594.7 L156.9,594.2 L157.6,593.7 L158.4,593.1 L159.1,592.6 L159.8,592.0 L160.5,591.4 L161.2,590.8 L162.0,590.1 L162.7,589.4 L163.4,588.6 L164.1,587.9 L164.8,587.0 L165.6,586.2 L166.3,585.3 L167.0,584.3 L167.7,583.3 L168.4,582.2 L169.2,581.1 L169.9,579.9 L170.6,578.6 L171.3,577.2 L172.0,575.8 L172.8,574.2 L173.5,572.6 L174.2,570.8 L174.9,569.0 L175.6,567.0 L176.4,564.8 L177.1,562.5 L177.8,560.1 L178.5,557.4 L179.2,554.6 L180.0,551.5 L180.7,548.2 L181.4,544.6 L182.1,540.8 L182.8,536.5 L183.6,532.0 L184.3,527.0 L185.0,521.6 L185.7,515.7 L186.5,509.3 L187.2,502.2 L187.9,494.5 L188.6,486.1 L189.3,476.9 L190.1,466.7 L190.8,455.6 L191.5,443.4 L192.2,430.1 L192.9,415.6 L193.7,399.8 L194.4,382.7 L195.1,364.3 L195.8,344.7 L196.5,324.1 L197.3,302.8 L198.0,281.1 L198.7,259.7 L199.4,239.3 L200.1,220.8 L200.9,205.1 L201.6,193.0 L202.3,185.4 L203.0,182.8" stroke="#0000ff" stroke-dasharray="3.17 9.52 22.22 9.52" stroke-dashoffset="22.19"/>
<path d="M203.0,182.8 L203.7,185.5 L204.5,193.1 L205.2,205.3 L205.9,221.1 L206.6,239.8 L207.4,260.3 L208.1,281.8 L208.8,303.6 L209.5,325.0 L210.2,345.7 L211.0,365.3 L211.7,383.7 L212.4,400.8 L213.1,416.6 L213.9,431.1 L214.6,444.4 L215.3,456.5 L216.0,467.6 L216.8,477.7 L217.5,486.9 L218.2,495.3 L218.9,503.0 L219.6,510.0 L220.4,516.4 L221.1,522.3 L221.8,527.7 L222.5,532.6 L223.3,537.1 L224.0,541.3 L224.7,545.2 L225.4,548.7 L226.2,552.0 L226.9,555.0 L227.6,557.9 L228.3,560.5 L229.1,562.9 L229.8,565.2 L230.5,567.3 L231.2,569.3 L231.9,571.2 L232.7,572.9 L233.4,574.5 L234.1,576.1 L234.8,577.5 L235.6,578.8 L236.3,580.1 L237.0,581.3 L237.7,582.4 L238.5,583.5 L239.2,584.5 L239.9,585.5 L240.6,586.4 L241.4,587.2 L242.1,588.1 L242.8,588.8 L243.5,589.6 L244.2,590.3 L245.0,590.9 L245.7,591.6 L246.4,592.2 L247.1,592.7 L247.9,593.3 L248.6,593.8 L249.3,594.3 L250.0,594.8 L250.8,595.3 L251.5,595.7 L252.2,596.1 L252.9,596.5 L253.7,596.9 L254.4,597.3 L255.1,597.6 L255.8,598.0 L256.5,598.3 L257.3,598.6 L258.0,598.9 L258.7,599.2 L259.4,599.5 L260.2,599.8 L260.9,600.1 L261.6,600.3 L262.3,600.6 L263.1,600.8 L263.8,601.0 L264.5,601.2 L265.2,601.5 L265.9,601.7 L266.7,601.9 L267.4,602.1 L268.1,602.2 L268.8,602.4 L269.6,602.6 L270.3,602.8 L271.0,602.9 L271.7,603.1 L272.5,603.2 L273.2,603.4 L273.9,603.5 L274.6,603.7 L275.4,603.8 L276.1,604.0 L276.8,604.1 L277.5,604.2 L278.2,604.3 L279.0,604.4 L279.7,604.6 L280.4,604.7 L281.1,604.8 L281.9,604.9 L282.6,605.0 L283.3,605.1 L284.0,605.2 L284.8,605.3 L285.5,605.4 L286.2,605.5 L286.9,605.6 L287.7,605.6 L288.4,605.7 L289.1,605.8 L289.8,605.9 L290.5,606.0 L291.3,606.0 L292.0,606.1 L292.7,606.2 L293.4,606.3 L294.2,606.3 L294.9,606.4 L295.6,606.5 L296.3,606.5 L297.1,606.6 L297.8,606.6 L298.5,606.7 L299.2,606.8 L300.0,606.8 L300.7,606.9 L301.4,606.9 L302.1,607.0 L302.8,607.0 L303.6,607.1 L304.3,607.1 L305.0,607.2 L305.7,607.2 L306.5,607.3 L307.2,607.3 L307.9,607.4 L308.6,607.4 L309.4,607.5 L310.1,607.5 L310.8,607.6 L311.5,607.6 L312.2,607.6 L313.0,607.7 L313.7,607.7 L314.4,607.8 L315.1,607.8 L315.9,607.8 L316.6,607.9 L317.3,607.9 L318.0,607.9 L318.8,608.0 L319.5,608.0 L320.2,608.0 L320.9,608.1 L321.7,608.1 L322.4,608.1 L323.1,608.2 L323.8,608.2 L324.5,608.2 L325.3,608.2 L326.0,608.3 L326.7,608.3 L327.4,608.3 L328.2,608.4 L328.9,608.4 L329.6,608.4 L330.3,608.4 L331.1,608.5 L331.8,608.5 L332.5,608.5 L333.2,608.5 L334.0,608.5 L334.7,608.6 L335.4,608.6 L336.1,608.6 L336.8,608.6 L337.6,608.7 L338.3,608.7 L339.0,608.7 L339.7,608.7 L340.5,608.7 L341.2,608.8 L341.9,608.8 L342.6,608.8 L343.4,608.8 L344.1,608.8 L344.8,608.9 L345.5,608.9 L346.3,608.9 L347.0,608.9 L347.7,608.9 L348.4,608.9 L349.1,609.0 L349.9,609.0 L350.6,609.0 L351.3,609.0 L352.0,609.0 L352.8,609.0 L353.5,609.1 L354.2,609.1 L354.9,609.1 L355.7,609.1 L356.4,609.1 L357.1,609.1 L357.8,609.1 L358.5,609.2 L359.3,609.2 L360.0,609.2 L360.7,609.2 L361.4,609.2 L362.2,609.2 L362.9,609.2 L363.6,609.2 L364.3,609.3 L365.1,609.3 L365.8,609.3 L366.5,609.3 L367.2,609.3 L368.0,609.3 L368.7,609.3 L369.4,609.3 L370.1,609.4 L370.8,609.4 L371.6,609.4 L372.3,609.4 L373.0,609.4 L373.7,609.4 L374.5,609.4 L375.2,609.4 L375.9,609.4 L376.6,609.4 L377.4,609.5 L378.1,609.5 L378.8,609.5 L379.5,609.5 L380.3,609.5 L381.0,609.5 L381.7,609.5 L382.4,609.5 L383.1,609.5 L383.9,609.5 L384.6,609.6 L385.3,609.6 L386.0,609.6 L386.8,609.6 L387.5,609.6 L388.2,609.6 L388.9,609.6 L389.7,609.6 L390.4,609.6 L391.1,609.6 L391.8,609.6 L392.5,609.6 L393.3,609.6 L394.0,609.7 L394.7,609.7 L395.4,609.7 L396.2,609.7 L396.9,609.7 L397.6,609.7 L398.3,609.7 L399.1,609.7 L399.8,609.7 L400.5,609.7 L401.2,609.7 L402.0,609.7 L402.7,609.7 L403.4,609.7 L404.1,609.7 L404.8,609.8 L405.6,609.8 L406.3,609.8 L407.0,609.8 L407.7,609.8 L408.5,609.8 L409.2,609.8 L409.9,609.8 L410.6,609.8 L411.4,609.8 L412.1,609.8 L412.8,609.8 L413.5,609.8 L414.3,609.8 L415.0,609.8 L415.7,609.8 L416.4,609.8 L417.1,609.9 L417.9,609.9 L418.6,609.9 L419.3,609.9 L420.0,609.9 L420.8,609.9 L421.5,609.9 L422.2,609.9 L422.9,609.9 L423.7,609.9 L424.4,609.9 L425.1,609.9 L425.8,609.9 L426.6,609.9 L427.3,609.9 L428.0,609.9 L428.7,609.9 L429.4,609.9 L430.2,609.9 L430.9,609.9 L431.6,609.9 L432.3,609.9 L433.1,610.0 L433.8,610.0 L434.5,610.0 L435.2,610.0 L436.0,610.0 L436.7,610.0 L437.4,610.0 L438.1,610.0 L438.8,610.0 L439.6,610.0 L440.3,610.0 L441.0,610.0 L441.7,610.0 L442.5,610.0 L443.2,610.0 L443.9,610.0 L444.6,610.0 L445.4,610.0 L446.1,610.0 L446.8,610.0 L447.5,610.0 L448.3,610.0 L449.0,610.0 L449.7,610.0 L450.4,610.0 L451.1,610.0 L451.9,610.0 L452.6,610.0 L453.3,610.0 L454.0,610.1 L454.8,610.1 L455.5,610.1 L456.2,610.1 L456.9,610.1 L457.7,610.1 L458.4,610.1 L459.1,610.1 L459.8,610.1 L460.6,610.1 L461.3,610.1 L462.0,610.1 L462.7,610.1 L463.4,610.1 L464.2,610.1 L464.9,610.1 L465.6,610.1 L466.3,610.1 L467.1,610.1 L467.8,610.1 L468.5,610.1 L469.2,610.1 L470.0,610.1 L470.7,610.1 L471.4,610.1 L472.1,610.1 L472.9,610.1 L473.6,610.1 L474.3,610.1 L475.0,610.1 L475.7,610.1 L476.5,610.1 L477.2,610.1 L477.9,610.1 L478.6,610.1 L479.4,610.1 L480.1,610.1 L480.8,610.1 L481.5,610.1 L482.3,610.1 L483.0,610.1 L483.7,610.2 L484.4,610.2 L485.1,610.2 L485.9,610.2 L486.6,610.2 L487.3,610.2 L488.0,610.2 L488.8,610.2 L489.5,610.2 L490.2,610.2 L490.9,610.2 L491.7,610.2 L492.4,610.2 L493.1,610.2 L493.8,610.2 L494.6,610.2 L495.3,610.2 L496.0,610.2 L496.7,610.2 L497.4,610.2 L498.2,610.2 L498.9,610.2 L499.6,610.2 L500.3,610.2 L501.1,610.2 L501.8,610.2 L502.5,610.2 L503.2,610.2 L504.0,610.2 L504.7,610.2 L505.4,610.2 L506.1,610.2 L506.9,610.2 L507.6,610.2 L508.3,610.2 L509.0,610.2 L509.7,610.2 L510.5,610.2 L511.2,610.2 L511.9,610.2 L512.6,610.2 L513.4,610.2 L514.1,610.2 L514.8,610.2 L515.5,610.2 L516.3,610.2 L517.0,610.2 L517.7,610.2 L518.4,610.2 L519.2,610.2 L519.9,610.2 L520.6,610.2 L521.3,610.2 L522.0,610.2 L522.8,610.2 L523.5,610.2 L524.2,610.2 L524.9,610.2 L525.7,610.2 L526.4,610.2 L527.1,610.2 L527.8,610.2 L528.6,610.2 L529.3,610.2 L530.0,610.2 L530.7,610.2 L531.4,610.2 L532.2,610.2 L532.9,610.2 L533.6,610.2 L534.3,610.2 L535.1,610.2 L535.8,610.2 L536.5,610.2 L537.2,610.2 L538.0,610.2 L538.7,610.2 L539.4,610.2 L540.1,610.2 L540.9,610.2 L541.6,610.2 L542.3,610.2 L543.0,610.2 L543.7,610.2 L544.5,610.2 L545.2,610.2 L545.9,610.2 L546.6,610.2 L547.4,610.2 L548.1,610.2 L548.8,610.3 L549.5,610.3 L550.3,610.3 L551.0,610.3 L551.7,610.3 L552.4,610.3 L553.2,610.3 L553.9,610.3 L554.6,610.3 L555.3,610.3 L556.0,610.3 L556.8,610.3 L557.5,610.3 L558.2,610.3 L558.9,610.3 L559.7,610.3 L560.4,610.3 L561.1,610.3 L561.8,610.3 L562.6,610.3 L563.3,610.3 L564.0,610.3 L564.7,610.3 L565.4,610.3 L566.2,610.3 L566.9,610.3 L567.6,610.3 L568.3,610.3 L569.1,610.3 L569.8,610.3 L570.5,610.3 L571.2,610.3 L572.0,610.3 L572.7,610.2 L573.4,610.2 L574.1,610.2 L574.9,610.2 L575.6,610.2 L576.3,610.2 L577.0,610.2 L577.7,610.2 L578.5,610.2 L579.2,610.2 L579.9,610.2 L580.6,610.2 L581.4,610.2 L582.1,610.2 L582.8,610.2 L583.5,610.2 L584.3,610.2 L585.0,610.2 L585.7,610.2 L586.4,610.2 L587.2,610.2 L587.9,610.2 L588.6,610.2 L589.3,610.2 L590.0,610.2 L590.8,610.2 L591.5,610.2 L592.2,610.2 L592.9,610.2 L593.7,610.2 L594.4,610.2 L595.1,610.2 L595.8,610.2 L596.6,610.2 L597.3,610.2 L598.0,610.2 L598.7,610.2 L599.5,610.2 L600.2,610.2 L600.9,610.2 L601.6,610.2 L602.3,610.2 L603.1,610.2 L603.8,610.2 L604.5,610.2 L605.2,610.2 L606.0,610.2 L606.7,610.2 L607.4,610.2 L608.1,610.2 L608.9,610.2 L609.6,610.2 L610.3,610.2 L611.0,610.2 L611.7,610.2 L612.5,610.2 L613.2,610.2 L613.9,610.2 L614.6,610.2 L615.4,610.2 L616.1,610.2 L616.8,610.2 L617.5,610.2 L618.3,610.2 L619.0,610.2 L619.7,610.2 L620.4,610.2 L621.2,610.2 L621.9,610.2" stroke="#0000ff" stroke-dasharray="3.17 9.52 22.22 9.52" stroke-dashoffset="0.87"/>
<path d="M621.9,610.2 L622.6,610.2 L623.3,610.2 L624.0,610.2 L624.8,610.2 L625.5,610.1 L626.2,610.1 L626.9,610.1 L627.6,610.1 L628.4,610.1 L629.1,610.1 L629.8,610.1 L630.5,610.1 L631.2,610.1 L632.0,610.1 L632.7,610.1 L633.4,610.1 L634.1,610.1 L634.9,610.1 L635.6,610.1 L636.3,610.1 L637.0,610.1 L637.7,610.1 L638.5,610.1 L639.2,610.1 L639.9,610.1 L640.6,610.1 L641.3,610.1 L642.1,610.1 L642.8,610.1 L643.5,610.1 L644.2,610.1 L644.9,610.0 L645.7,610.0 L646.4,610.0 L647.1,610.0 L647.8,610.0 L648.6,610.0 L649.3,610.0 L650.0,610.0 L650.7,610.0 L651.4,610.0 L652.2,610.0 L652.9,610.0 L653.6,610.0 L654.3,610.0 L655.0,610.0 L655.8,610.0 L656.5,610.0 L657.2,609.9 L657.9,609.9 L658.6,609.9 L659.4,609.9 L660.1,609.9 L660.8,609.9 L661.5,609.9 L662.2,609.9 L663.0,609.9 L663.7,609.9 L664.4,609.9 L665.1,609.9 L665.9,609.8 L666.6,609.8 L667.3,609.8 L668.0,609.8 L668.7,609.8 L669.5,609.8 L670.2,609.8 L670.9,609.8 L671.6,609.8 L672.3,609.8 L673.1,609.7 L673.8,609.7 L674.5,609.7 L675.2,609.7 L675.9,609.7 L676.7,609.7 L677.4,609.7 L678.1,609.7 L678.8,609.6 L679.5,609.6 L680.3,609.6 L681.0,609.6 L681.7,609.6 L682.4,609.6 L683.2,609.5 L683.9,609.5 L684.6,609.5 L685.3,609.5 L686.0,609.5 L686.8,609.5 L687.5,609.4 L688.2,609.4 L688.9,609.4 L689.6,609.4 L690.4,609.3 L691.1,609.3 L691.8,609.3 L692.5,609.3 L693.2,609.3 L694.0,609.2 L694.7,609.2 L695.4,609.2 L696.1,609.1 L696.9,609.1 L697.6,609.1 L698.3,609.1 L699.0,609.0 L699.7,609.0 L700.5,609.0 L701.2,608.9 L701.9,608.9 L702.6,608.9 L703.3,608.8 L704.1,608.8 L704.8,608.7 L705.5,608.7 L706.2,608.6 L706.9,608.6 L707.7,608.6 L708.4,608.5 L709.1,608.5 L709.8,608.4 L710.5,608.3 L711.3,608.3 L712.0,608.2 L712.7,608.2 L713.4,608.1 L714.2,608.0 L714.9,608.0 L715.6,607.9 L716.3,607.8 L717.0,607.7 L717.8,607.7 L718.5,607.6 L719.2,607.5 L719.9,607.4 L720.6,607.3 L721.4,607.2 L722.1,607.1 L722.8,607.0 L723.5,606.8 L724.2,606.7 L725.0,606.6 L725.7,606.4 L726.4,606.3 L727.1,606.1 L727.8,606.0 L728.6,605.8 L729.3,605.6 L730.0,605.4 L730.7,605.2 L731.5,605.0 L732.2,604.8 L732.9,604.6 L733.6,604.3 L734.3,604.0 L735.1,603.8 L735.8,603.4 L736.5,603.1 L737.2,602.8 L737.9,602.4 L738.7,602.0 L739.4,601.6 L740.1,601.1 L740.8,600.6 L741.5,600.1 L742.3,599.5 L743.0,598.9 L743.7,598.2 L744.4,597.5 L745.2,596.7 L745.9,595.9 L746.6,594.9 L747.3,593.9 L748.0,592.8 L748.8,591.6 L749.5,590.3 L750.2,588.9 L750.9,587.3 L751.6,585.5 L752.4,583.7 L753.1,581.6 L753.8,579.3 L754.5,576.8 L755.2,574.1 L756.0,571.1 L756.7,567.9 L757.4,564.5 L758.1,560.8 L758.8,556.9 L759.6,552.9 L760.3,548.9 L761.0,544.9 L761.7,541.0 L762.5,537.6 L763.2,534.6 L763.9,532.3 L764.6,530.9 L765.3,530.4" stroke="#0000ff" stroke-dasharray="3.17 9.52 22.22 9.52" stroke-dashoffset="44.12"/>
<path d="M765.3,530.4 L766.1,530.9 L766.8,532.3 L767.5,534.6 L768.2,537.6 L768.9,541.1 L769.7,544.9 L770.4,548.9 L771.1,553.0 L771.8,557.0 L772.6,560.9 L773.3,564.5 L774.0,568.0 L774.7,571.2 L775.4,574.2 L776.2,576.9 L776.9,579.4 L777.6,581.6 L778.3,583.7 L779.1,585.6 L779.8,587.4 L780.5,588.9 L781.2,590.4 L781.9,591.7 L782.7,592.9 L783.4,594.0 L784.1,595.0 L784.8,595.9 L785.6,596.8 L786.3,597.6 L787.0,598.3 L787.7,599.0 L788.4,599.6 L789.2,600.1 L789.9,600.7 L790.6,601.2 L791.3,601.6 L792.1,602.1 L792.8,602.5 L793.5,602.8 L794.2,603.2 L794.9,603.5 L795.7,603.8 L796.4,604.1 L797.1,604.4 L797.8,604.6 L798.6,604.9 L799.3,605.1 L800.0,605.3 L800.7,605.5 L801.4,605.7 L802.2,605.9 L802.9,606.0 L803.6,606.2 L804.3,606.3 L805.1,606.5 L805.8,606.6 L806.5,606.8 L807.2,606.9 L807.9,607.0 L808.7,607.1 L809.4,607.2 L810.1,607.3 L810.8,607.4 L811.6,607.5 L812.3,607.6 L813.0,607.7 L813.7,607.8 L814.4,607.9 L815.2,607.9 L815.9,608.0 L816.6,608.1 L817.3,608.2 L818.1,608.2 L818.8,608.3 L819.5,608.3 L820.2,608.4 L821.0,608.5" stroke="#0000ff" stroke-dasharray="3.17 9.52 22.22 9.52" stroke-dashoffset="19.02"/>
<path d="M98.7,603.4 L99.4,603.3 L100.1,603.1 L100.8,603.0 L101.5,602.9 L102.3,602.7 L103.0,602.6 L103.7,602.4 L104.4,602.3 L105.1,602.1 L105.9,601.9 L106.6,601.8 L107.3,601.6 L108.0,601.4 L108.7,601.2 L109.4,601.0 L110.2,600.8 L110.9,600.6 L111.6,600.4 L112.3,600.2 L113.0,600.0 L113.7,599.8 L114.5,599.5 L115.2,599.3 L115.9,599.0 L116.6,598.8 L117.3,598.5 L118.0,598.2 L118.8,597.9" stroke="#008b00" stroke-dasharray="3.17 9.52 15.88 9.52 3.17 9.52"/>
<path d="M118.8,597.9 L119.5,597.6 L120.2,597.3 L120.9,597.0 L121.6,596.7 L122.4,596.3 L123.1,596.0 L123.8,595.6 L124.5,595.2 L125.2,594.8 L126.0,594.4 L126.7,594.0 L127.4,593.5 L128.1,593.1 L128.8,592.6 L129.5,592.1 L130.3,591.5 L131.0,591.0 L131.7,590.4 L132.4,589.8 L133.1,589.2 L133.9,588.5 L134.6,587.9 L135.3,587.2 L136.0,586.4 L136.7,585.6 L137.5,584.8 L138.2,584.0 L138.9,583.1 L139.6,582.1 L140.3,581.1 L141.0,580.1 L141.8,579.0 L142.5,577.8 L143.2,576.6 L143.9,575.3 L144.6,573.9 L145.4,572.5 L146.1,570.9 L146.8,569.3 L147.5,567.6 L148.2,565.8 L149.0,563.8 L149.7,561.8 L150.4,559.6 L151.1,557.2 L151.8,554.7 L152.6,552.0 L153.3,549.2 L154.0,546.1 L154.7,542.8 L155.4,539.2 L156.1,535.4 L156.9,531.3 L157.6,526.9 L158.3,522.1 L159.0,516.9 L159.7,511.2 L160.5,505.1 L161.2,498.5 L161.9,491.2 L162.6,483.3 L163.3,474.7 L164.1,465.2 L164.8,454.9 L165.5,443.6 L166.2,431.2 L166.9,417.6 L167.6,402.8 L168.4,386.4 L169.1,368.6 L169.8,349.2 L170.5,328.0 L171.2,305.1 L172.0,280.5 L172.7,254.4 L173.4,226.8 L174.1,198.3 L174.8,169.4 L175.6,140.9 L176.3,113.6 L177.0,88.9 L177.7,67.9 L178.4,51.8 L179.1,41.7 L179.9,38.3" stroke="#008b00" stroke-dasharray="3.17 9.52 15.88 9.52 3.17 9.52" stroke-dashoffset="22.96"/>
<path d="M179.9,38.3 L180.6,41.8 L181.3,52.0 L182.0,68.3 L182.8,89.5 L183.5,114.5 L184.2,142.0 L184.9,170.8 L185.7,199.9 L186.4,228.5 L187.1,256.2 L187.8,282.4 L188.5,307.0 L189.3,329.9 L190.0,351.0 L190.7,370.5 L191.4,388.3 L192.2,404.5 L192.9,419.3 L193.6,432.9 L194.3,445.2 L195.1,456.4 L195.8,466.7 L196.5,476.0 L197.2,484.6 L198.0,492.5 L198.7,499.6 L199.4,506.2 L200.1,512.3 L200.8,517.9 L201.6,523.1 L202.3,527.8 L203.0,532.2 L203.7,536.3 L204.5,540.1 L205.2,543.6 L205.9,546.8 L206.6,549.9 L207.4,552.7 L208.1,555.4 L208.8,557.9 L209.5,560.2 L210.3,562.4 L211.0,564.4 L211.7,566.3 L212.4,568.1 L213.1,569.8 L213.9,571.4 L214.6,572.9 L215.3,574.4 L216.0,575.7 L216.8,577.0 L217.5,578.2 L218.2,579.4 L218.9,580.4 L219.7,581.5 L220.4,582.5 L221.1,583.4 L221.8,584.3 L222.6,585.1 L223.3,585.9 L224.0,586.7 L224.7,587.5 L225.4,588.2 L226.2,588.8 L226.9,589.5 L227.6,590.1 L228.3,590.7 L229.1,591.2 L229.8,591.8 L230.5,592.3 L231.2,592.8 L232.0,593.3 L232.7,593.7 L233.4,594.2 L234.1,594.6 L234.9,595.0 L235.6,595.4 L236.3,595.8 L237.0,596.2 L237.8,596.5 L238.5,596.8 L239.2,597.2 L239.9,597.5 L240.6,597.8 L241.4,598.1 L242.1,598.4 L242.8,598.7 L243.5,598.9 L244.3,599.2 L245.0,599.4 L245.7,599.7 L246.4,599.9 L247.2,600.1 L247.9,600.3 L248.6,600.6 L249.3,600.8 L250.1,601.0 L250.8,601.2 L251.5,601.4 L252.2,601.5 L252.9,601.7 L253.7,601.9 L254.4,602.1 L255.1,602.2 L255.8,602.4 L256.6,602.5 L257.3,602.7 L258.0,602.8 L258.7,603.0 L259.5,603.1 L260.2,603.2 L260.9,603.4 L261.6,603.5 L262.4,603.6 L263.1,603.7 L263.8,603.9 L264.5,604.0 L265.2,604.1 L266.0,604.2 L266.7,604.3 L267.4,604.4 L268.1,604.5 L268.9,604.6 L269.6,604.7 L270.3,604.8 L271.0,604.9 L271.8,605.0 L272.5,605.1 L273.2,605.2 L273.9,605.2 L274.7,605.3 L275.4,605.4 L276.1,605.5 L276.8,605.6 L277.5,605.6 L278.3,605.7 L279.0,605.8 L279.7,605.9 L280.4,605.9 L281.2,606.0 L281.9,606.1 L282.6,606.1 L283.3,606.2 L284.1,606.2 L284.8,606.3 L285.5,606.4 L286.2,606.4 L287.0,606.5 L287.7,606.5 L288.4,606.6 L289.1,606.6 L289.8,606.7 L290.6,606.7 L291.3,606.8 L292.0,606.8 L292.7,606.9 L293.5,606.9 L294.2,607.0 L294.9,607.0 L295.6,607.1 L296.4,607.1 L297.1,607.2 L297.8,607.2 L298.5,607.3 L299.3,607.3 L300.0,607.3 L300.7,607.4 L301.4,607.4 L302.1,607.5 L302.9,607.5 L303.6,607.5 L304.3,607.6 L305.0,607.6 L305.8,607.6 L306.5,607.7 L307.2,607.7 L307.9,607.7 L308.7,607.8 L309.4,607.8 L310.1,607.8 L310.8,607.9 L311.6,607.9 L312.3,607.9 L313.0,608.0 L313.7,608.0 L314.4,608.0 L315.2,608.0 L315.9,608.1 L316.6,608.1 L317.3,608.1 L318.1,608.2 L318.8,608.2 L319.5,608.2 L320.2,608.2 L321.0,608.3 L321.7,608.3 L322.4,608.3 L323.1,608.3 L323.9,608.4 L324.6,608.4 L325.3,608.4 L326.0,608.4 L326.7,608.4 L327.5,608.5 L328.2,608.5 L328.9,608.5 L329.6,608.5 L330.4,608.6 L331.1,608.6 L331.8,608.6 L332.5,608.6 L333.3,608.6 L334.0,608.7 L334.7,608.7 L335.4,608.7 L336.2,608.7 L336.9,608.7 L337.6,608.7 L338.3,608.8 L339.1,608.8 L339.8,608.8 L340.5,608.8 L341.2,608.8 L341.9,608.8 L342.7,608.9 L343.4,608.9 L344.1,608.9 L344.8,608.9 L345.6,608.9 L346.3,608.9 L347.0,609.0 L347.7,609.0 L348.5,609.0 L349.2,609.0 L349.9,609.0 L350.6,609.0 L351.4,609.0 L352.1,609.1 L352.8,609.1 L353.5,609.1 L354.2,609.1 L355.0,609.1 L355.7,609.1 L356.4,609.1 L357.1,609.2 L357.9,609.2 L358.6,609.2 L359.3,609.2 L360.0,609.2 L360.8,609.2 L361.5,609.2 L362.2,609.2 L362.9,609.2 L363.7,609.3 L364.4,609.3 L365.1,609.3 L365.8,609.3 L366.5,609.3 L367.3,609.3 L368.0,609.3 L368.7,609.3 L369.4,609.3 L370.2,609.4 L370.9,609.4 L371.6,609.4 L372.3,609.4 L373.1,609.4 L373.8,609.4 L374.5,609.4 L375.2,609.4 L376.0,609.4 L376.7,609.4 L377.4,609.5 L378.1,609.5 L378.8,609.5 L379.6,609.5 L380.3,609.5 L381.0,609.5 L381.7,609.5 L382.5,609.5 L383.2,609.5 L383.9,609.5 L384.6,609.5 L385.4,609.5 L386.1,609.6 L386.8,609.6 L387.5,609.6 L388.3,609.6 L389.0,609.6 L389.7,609.6 L390.4,609.6 L391.1,609.6 L391.9,609.6 L392.6,609.6 L393.3,609.6 L394.0,609.6 L394.8,609.6 L395.5,609.7 L396.2,609.7 L396.9,609.7 L397.7,609.7 L398.4,609.7 L399.1,609.7 L399.8,609.7 L400.6,609.7 L401.3,609.7 L402.0,609.7 L402.7,609.7 L403.4,609.7 L404.2,609.7 L404.9,609.7 L405.6,609.7 L406.3,609.8 L407.1,609.8 L407.8,609.8 L408.5,609.8 L409.2,609.8 L410.0,609.8 L410.7,609.8 L411.4,609.8 L412.1,609.8 L412.9,609.8 L413.6,609.8 L414.3,609.8 L415.0,609.8 L415.7,609.8 L416.5,609.8 L417.2,609.8 L417.9,609.8 L418.6,609.8 L419.4,609.9 L420.1,609.9 L420.8,609.9 L421.5,609.9 L422.3,609.9 L423.0,609.9 L423.7,609.9 L424.4,609.9 L425.2,609.9 L425.9,609.9 L426.6,609.9 L427.3,609.9 L428.0,609.9 L428.8,609.9 L429.5,609.9 L430.2,609.9 L430.9,609.9 L431.7,609.9 L432.4,609.9 L433.1,609.9 L433.8,609.9 L434.6,609.9 L435.3,610.0 L436.0,610.0 L436.7,610.0 L437.5,610.0 L438.2,610.0 L438.9,610.0 L439.6,610.0 L440.4,610.0 L441.1,610.0 L441.8,610.0 L442.5,610.0 L443.2,610.0 L444.0,610.0 L444.7,610.0 L445.4,610.0 L446.1,610.0 L446.9,610.0 L447.6,610.0 L448.3,610.0 L449.0,610.0 L449.8,610.0 L450.5,610.0 L451.2,610.0 L451.9,610.0 L452.7,610.0 L453.4,610.0 L454.1,610.1 L454.8,610.1 L455.5,610.1 L456.3,610.1 L457.0,610.1 L457.7,610.1 L458.4,610.1 L459.2,610.1 L459.9,610.1 L460.6,610.1 L461.3,610.1 L462.1,610.1 L462.8,610.1 L463.5,610.1 L464.2,610.1 L465.0,610.1 L465.7,610.1 L466.4,610.1 L467.1,610.1 L467.8,610.1 L468.6,610.1 L469.3,610.1 L470.0,610.1 L470.7,610.1 L471.5,610.1 L472.2,610.1 L472.9,610.1 L473.6,610.1 L474.4,610.1 L475.1,610.1 L475.8,610.1 L476.5,610.1 L477.3,610.1 L478.0,610.2 L478.7,610.2 L479.4,610.2 L480.1,610.2 L480.9,610.2 L481.6,610.2 L482.3,610.2 L483.0,610.2 L483.8,610.2 L484.5,610.2 L485.2,610.2 L485.9,610.2 L486.7,610.2 L487.4,610.2 L488.1,610.2 L488.8,610.2 L489.6,610.2 L490.3,610.2 L491.0,610.2 L491.7,610.2 L492.4,610.2 L493.2,610.2 L493.9,610.2 L494.6,610.2 L495.3,610.2 L496.1,610.2 L496.8,610.2 L497.5,610.2 L498.2,610.2 L499.0,610.2 L499.7,610.2 L500.4,610.2 L501.1,610.2 L501.9,610.2 L502.6,610.2 L503.3,610.2 L504.0,610.2 L504.7,610.2 L505.5,610.2 L506.2,610.2 L506.9,610.2 L507.6,610.2 L508.4,610.2 L509.1,610.3 L509.8,610.3 L510.5,610.3 L511.3,610.3 L512.0,610.3 L512.7,610.3 L513.4,610.3 L514.2,610.3 L514.9,610.3 L515.6,610.3 L516.3,610.3 L517.0,610.3 L517.8,610.3 L518.5,610.3 L519.2,610.3 L519.9,610.3 L520.7,610.3 L521.4,610.3 L522.1,610.3 L522.8,610.3 L523.6,610.3 L524.3,610.3 L525.0,610.3 L525.7,610.3 L526.5,610.3 L527.2,610.3 L527.9,610.3 L528.6,610.3 L529.4,610.3 L530.1,610.3 L530.8,610.3 L531.5,610.3 L532.2,610.3 L533.0,610.3 L533.7,610.3 L534.4,610.3 L535.1,610.3 L535.9,610.3 L536.6,610.3 L537.3,610.3 L538.0,610.3 L538.8,610.3 L539.5,610.3 L540.2,610.3 L540.9,610.3 L541.7,610.3 L542.4,610.3 L543.1,610.3 L543.8,610.3 L544.5,610.3 L545.3,610.3 L546.0,610.3 L546.7,610.3 L547.4,610.3 L548.2,610.3 L548.9,610.3 L549.6,610.3 L550.3,610.3 L551.1,610.3 L551.8,610.3 L552.5,610.3 L553.2,610.4 L554.0,610.4 L554.7,610.4 L555.4,610.4 L556.1,610.4 L556.8,610.4 L557.6,610.4 L558.3,610.4 L559.0,610.4 L559.7,610.4 L560.5,610.4 L561.2,610.4 L561.9,610.4 L562.6,610.4 L563.4,610.4 L564.1,610.4 L564.8,610.4 L565.5,610.4 L566.3,610.4 L567.0,610.4 L567.7,610.4 L568.4,610.4 L569.1,610.4 L569.9,610.4 L570.6,610.4 L571.3,610.4 L572.0,610.4 L572.8,610.4 L573.5,610.4 L574.2,610.4 L574.9,610.4 L575.7,610.4 L576.4,610.4 L577.1,610.4 L577.8,610.4 L578.6,610.4 L579.3,610.4 L580.0,610.4 L580.7,610.4 L581.4,610.4 L582.2,610.4 L582.9,610.4 L583.6,610.4 L584.3,610.4 L585.1,610.4 L585.8,610.4 L586.5,610.4 L587.2,610.4 L588.0,610.4 L588.7,610.4 L589.4,610.4 L590.1,610.4 L590.9,610.4 L591.6,610.4 L592.3,610.4 L593.0,610.4 L593.7,610.4 L594.5,610.4 L595.2,610.4 L595.9,610.4 L596.6,610.4 L597.4,610.4 L598.1,610.4 L598.8,610.4 L599.5,610.4 L600.3,610.4 L601.0,610.4 L601.7,610.4 L602.4,610.4 L603.2,610.4 L603.9,610.4 L604.6,610.4 L605.3,610.4 L606.0,610.4 L606.8,610.4 L607.5,610.4 L608.2,610.4 L608.9,610.4 L609.7,610.4 L610.4,610.4 L611.1,610.4 L611.8,610.4 L612.6,610.4 L613.3,610.4 L614.0,610.4 L614.7,610.4 L615.5,610.4 L616.2,610.4 L616.9,610.4 L617.6,610.4 L618.3,610.4 L619.1,610.4 L619.8,610.4 L620.5,610.4 L621.2,610.4 L622.0,610.5 L622.7,610.5 L623.4,610.5 L624.1,610.5 L624.9,610.5 L625.6,610.5 L626.3,610.5 L627.0,610.5 L627.8,610.5 L628.5,610.5 L629.2,610.5 L629.9,610.5 L630.7,610.5 L631.4,610.5 L632.1,610.5 L632.8,610.5 L633.5,610.5 L634.3,610.5 L635.0,610.5 L635.7,610.5 L636.4,610.5 L637.2,610.5 L637.9,610.5 L638.6,610.5 L639.3,610.5 L640.1,610.5 L640.8,610.5 L641.5,610.5 L642.2,610.5 L643.0,610.5 L643.7,610.5 L644.4,610.5 L645.1,610.5 L645.8,610.5 L646.6,610.5 L647.3,610.5 L648.0,610.5 L648.7,610.5 L649.5,610.5 L650.2,610.5 L650.9,610.5 L651.6,610.5 L652.4,610.5 L653.1,610.5 L653.8,610.5 L654.5,610.5 L655.3,610.5 L656.0,610.5 L656.7,610.5 L657.4,610.5 L658.1,610.5 L658.9,610.5 L659.6,610.5 L660.3,610.5 L661.0,610.5 L661.8,610.5 L662.5,610.5 L663.2,610.5 L663.9,610.5 L664.7,610.5 L665.4,610.5 L666.1,610.5 L666.8,610.5 L667.6,610.5 L668.3,610.5 L669.0,610.5 L669.7,610.5 L670.4,610.5 L671.2,610.5 L671.9,610.5 L672.6,610.5 L673.3,610.5 L674.1,610.5 L674.8,610.5 L675.5,610.5 L676.2,610.5 L677.0,610.5 L677.7,610.5 L678.4,610.5 L679.1,610.5 L679.9,610.5 L680.6,610.5 L681.3,610.5 L682.0,610.5 L682.7,610.5 L683.5,610.5 L684.2,610.5 L684.9,610.5 L685.6,610.5 L686.4,610.5 L687.1,610.5 L687.8,610.5 L688.5,610.5 L689.3,610.5 L690.0,610.5 L690.7,610.5 L691.4,610.5 L692.2,610.5 L692.9,610.5 L693.6,610.5 L694.3,610.5 L695.0,610.5 L695.8,610.5 L696.5,610.5 L697.2,610.5 L697.9,610.5 L698.7,610.5 L699.4,610.5 L700.1,610.5 L700.8,610.5 L701.6,610.5 L702.3,610.5 L703.0,610.5 L703.7,610.5 L704.5,610.5 L705.2,610.5 L705.9,610.5 L706.6,610.5 L707.3,610.5 L708.1,610.5 L708.8,610.5 L709.5,610.5 L710.2,610.5 L711.0,610.5 L711.7,610.5 L712.4,610.5 L713.1,610.5 L713.9,610.5 L714.6,610.5 L715.3,610.5 L716.0,610.5 L716.8,610.5 L717.5,610.5 L718.2,610.5 L718.9,610.5 L719.6,610.5 L720.4,610.5 L721.1,610.5 L721.8,610.5 L722.5,610.5 L723.3,610.5 L724.0,610.5 L724.7,610.5 L725.4,610.5 L726.2,610.5 L726.9,610.5 L727.6,610.5 L728.3,610.5 L729.1,610.5 L729.8,610.5 L730.5,610.5 L731.2,610.5 L732.0,610.5 L732.7,610.5 L733.4,610.5 L734.1,610.5 L734.8,610.5 L735.6,610.5 L736.3,610.5 L737.0,610.5 L737.7,610.5 L738.5,610.5 L739.2,610.5 L739.9,610.5 L740.6,610.5 L741.4,610.5 L742.1,610.5 L742.8,610.5 L743.5,610.5 L744.3,610.5 L745.0,610.5 L745.7,610.5 L746.4,610.5 L747.1,610.5 L747.9,610.5 L748.6,610.5 L749.3,610.5 L750.0,610.6 L750.8,610.6 L751.5,610.6 L752.2,610.6 L752.9,610.6 L753.7,610.6 L754.4,610.6 L755.1,610.6 L755.8,610.6 L756.6,610.6 L757.3,610.6 L758.0,610.6 L758.7,610.6 L759.4,610.6 L760.2,610.6 L760.9,610.6 L761.6,610.6 L762.3,610.6 L763.1,610.6 L763.8,610.6 L764.5,610.6 L765.2,610.6 L766.0,610.6 L766.7,610.6 L767.4,610.6 L768.1,610.6 L768.9,610.6 L769.6,610.6 L770.3,610.6 L771.0,610.6 L771.7,610.6 L772.5,610.6 L773.2,610.6 L773.9,610.6 L774.6,610.6 L775.4,610.6 L776.1,610.6 L776.8,610.6 L777.5,610.6 L778.3,610.6 L779.0,610.6 L779.7,610.6 L780.4,610.6 L781.2,610.6 L781.9,610.6 L782.6,610.6 L783.3,610.6 L784.0,610.6 L784.8,610.6 L785.5,610.6 L786.2,610.6 L786.9,610.6 L787.7,610.6 L788.4,610.6 L789.1,610.6 L789.8,610.6 L790.6,610.6 L791.3,610.6 L792.0,610.6 L792.7,610.6 L793.5,610.6 L794.2,610.6 L794.9,610.6 L795.6,610.6 L796.3,610.6 L797.1,610.6 L797.8,610.6 L798.5,610.6 L799.2,610.6 L800.0,610.6 L800.7,610.6 L801.4,610.6 L802.1,610.6 L802.9,610.6 L803.6,610.6 L804.3,610.6 L805.0,610.6 L805.8,610.6 L806.5,610.6 L807.2,610.6 L807.9,610.6 L808.6,610.6 L809.4,610.6 L810.1,610.6 L810.8,610.6 L811.5,610.6 L812.3,610.6 L813.0,610.6 L813.7,610.6 L814.4,610.6 L815.2,610.6 L815.9,610.6 L816.6,610.6 L817.3,610.6 L818.1,610.6 L818.8,610.6 L819.5,610.6 L820.2,610.6 L821.0,610.6" stroke="#008b00" stroke-dasharray="3.17 9.52 15.88 9.52 3.17 9.52" stroke-dashoffset="37.59"/>
</g>
<path d="M97.0,610.7 v-17.1 M97.0,14.0 v17.1 M278.0,610.7 v-17.1 M278.0,14.0 v17.1 M459.0,610.7 v-17.1 M459.0,14.0 v17.1 M640.0,610.7 v-17.1 M640.0,14.0 v17.1 M821.0,610.7 v-17.1 M821.0,14.0 v17.1 M97.0,610.7 h17.1 M821.0,610.7 h-17.1 M97.0,511.3 h17.1 M821.0,511.3 h-17.1 M97.0,411.8 h17.1 M821.0,411.8 h-17.1 M97.0,312.4 h17.1 M821.0,312.4 h-17.1 M97.0,212.9 h17.1 M821.0,212.9 h-17.1 M97.0,113.5 h17.1 M821.0,113.5 h-17.1 M97.0,14.0 h17.1 M821.0,14.0 h-17.1" stroke="#000" stroke-width="2.3" fill="none"/>
<path d="M142.3,610.7 v-9.0 M142.3,14.0 v9.0 M187.5,610.7 v-9.0 M187.5,14.0 v9.0 M232.8,610.7 v-9.0 M232.8,14.0 v9.0 M323.3,610.7 v-9.0 M323.3,14.0 v9.0 M368.5,610.7 v-9.0 M368.5,14.0 v9.0 M413.8,610.7 v-9.0 M413.8,14.0 v9.0 M504.2,610.7 v-9.0 M504.2,14.0 v9.0 M549.5,610.7 v-9.0 M549.5,14.0 v9.0 M594.7,610.7 v-9.0 M594.7,14.0 v9.0 M685.2,610.7 v-9.0 M685.2,14.0 v9.0 M730.5,610.7 v-9.0 M730.5,14.0 v9.0 M775.7,610.7 v-9.0 M775.7,14.0 v9.0 M97.0,561.0 h9.0 M821.0,561.0 h-9.0 M97.0,461.5 h9.0 M821.0,461.5 h-9.0 M97.0,362.1 h9.0 M821.0,362.1 h-9.0 M97.0,262.6 h9.0 M821.0,262.6 h-9.0 M97.0,163.2 h9.0 M821.0,163.2 h-9.0 M97.0,63.7 h9.0 M821.0,63.7 h-9.0" stroke="#000" stroke-width="1.4" fill="none"/>
<rect x="97.05" y="14.00" width="723.90" height="596.85" fill="none" stroke="#000" stroke-width="2.30" stroke-linejoin="round"/>
<g style="will-change:opacity;opacity:0.999">
<text font-size="39.7" x="97.3" y="646.0" text-anchor="middle">0</text>
<text font-size="39.7" x="278.3" y="646.0" text-anchor="middle">1</text>
<text font-size="39.7" x="459.3" y="646.0" text-anchor="middle">2</text>
<text font-size="39.7" x="640.3" y="646.0" text-anchor="middle">3</text>
<text font-size="39.7" x="821.2" y="646.0" text-anchor="middle">4</text>
<text font-size="39.7" x="90" y="623.8" text-anchor="end">0</text>
<text font-size="39.7" x="90" y="524.4" text-anchor="end">5</text>
<text font-size="39.7" x="90" y="424.9" text-anchor="end">10</text>
<text font-size="39.7" x="90" y="325.5" text-anchor="end">15</text>
<text font-size="39.7" x="90" y="226.0" text-anchor="end">20</text>
<text font-size="39.7" x="90" y="126.6" text-anchor="end">25</text>
<text font-size="39.7" x="90" y="27.1" text-anchor="end">30</text>
<path d="M533,175.0 H618" stroke="#000" stroke-width="3.4" fill="none"/>
<path d="M533,218.0 H618" stroke="#ff0000" stroke-width="3.4" fill="none" stroke-dasharray="15.88 9.52"/>
<path d="M533,260.5 H618" stroke="#0000ff" stroke-width="3.4" fill="none" stroke-dasharray="3.17 9.52 22.22 9.52"/>
<path d="M533,302.7 H618" stroke="#008b00" stroke-width="3.4" fill="none" stroke-dasharray="3.17 9.52 15.88 9.52 3.17 9.52"/>
<text transform="translate(633.42,180.70) scale(1.2529,1)" font-size="29.30">μ</text>
<text x="653.00" y="180.70" font-size="29.30">/</text>
<text transform="translate(661.19,180.70) scale(1.0828,1)" font-size="29.30">Δ</text>
<text x="680.46" y="192.20" font-size="20.60">so</text>
<text x="699.24" y="180.70" font-size="29.30">=0</text>
<text transform="translate(633.42,222.80) scale(1.2529,1)" font-size="29.30">μ</text>
<text x="653.00" y="222.80" font-size="29.30">/</text>
<text transform="translate(661.19,222.80) scale(1.0828,1)" font-size="29.30">Δ</text>
<text x="680.46" y="234.30" font-size="20.60">so</text>
<text x="699.24" y="222.80" font-size="29.30">=1.2</text>
<text transform="translate(633.42,265.10) scale(1.2529,1)" font-size="29.30">μ</text>
<text x="653.00" y="265.10" font-size="29.30">/</text>
<text transform="translate(661.19,265.10) scale(1.0828,1)" font-size="29.30">Δ</text>
<text x="680.46" y="276.60" font-size="20.60">so</text>
<text x="699.24" y="265.10" font-size="29.30">=1.7</text>
<text transform="translate(633.42,307.10) scale(1.2529,1)" font-size="29.30">μ</text>
<text x="653.00" y="307.10" font-size="29.30">/</text>
<text transform="translate(661.19,307.10) scale(1.0828,1)" font-size="29.30">Δ</text>
<text x="680.46" y="318.60" font-size="20.60">so</text>
<text x="699.24" y="307.10" font-size="29.30">=2.3</text>
<text x="533.96" y="99.30" font-size="29.30">B</text>
<text x="553.80" y="99.30" font-size="29.30">/</text>
<text transform="translate(561.79,99.30) scale(1.0828,1)" font-size="29.30">Δ</text>
<text x="581.62" y="87.00" font-size="15.50">2</text>
<text x="580.96" y="110.80" font-size="20.60">so</text>
<text transform="translate(599.22,99.30) scale(1.0173,1)" font-size="29.30">=65.7G/meV</text>
<text x="757.69" y="82.70" font-size="20.60">2</text>
<text transform="translate(533.59,148.30) scale(1.0828,1)" font-size="29.30">Δ</text>
<text x="553.05" y="160.70" font-size="20.60">z</text>
<text x="562.00" y="148.30" font-size="29.30">/</text>
<text transform="translate(569.69,148.30) scale(1.0828,1)" font-size="29.30">Δ</text>
<text x="588.76" y="160.70" font-size="20.60">so</text>
<text x="606.74" y="148.30" font-size="29.30">=0</text>
<text transform="translate(413.82,681.60) scale(1.0964,1)" font-size="38.50">Ω</text>
<text x="443.30" y="681.60" font-size="38.50">/</text>
<text transform="translate(453.28,681.60) scale(1.1078,1)" font-size="38.50">Δ</text>
<text x="479.29" y="696.30" font-size="27.00">so</text>
<g transform="translate(27.7,411.2) rotate(-90)">
<text x="-0.61" y="0.00" font-size="38.50">Re</text>
<text transform="translate(40.65,0.00) scale(1.1922,1)" font-size="38.50">σ</text>
<text x="67.86" y="15.00" font-size="27.00">xx</text>
<text x="94.71" y="0.00" font-size="38.50">(</text>
<text transform="translate(105.88,0.00) scale(1.1126,1)" font-size="38.50">Ω</text>
<text x="137.26" y="0.00" font-size="38.50">)</text>
<text x="150.50" y="0.00" font-size="38.50">/</text>
<text transform="translate(160.25,0.00) scale(1.1922,1)" font-size="38.50">σ</text>
<text x="184.37" y="15.00" font-size="27.00">0</text>
</g>
<text font-size="39" x="272.8" y="242.4" textLength="156.2" lengthAdjust="spacingAndGlyphs">Intraband</text>
<text font-size="39" x="561.1" y="430.6" textLength="156.5" lengthAdjust="spacingAndGlyphs">Interband</text>
</g>
<path d="M258.6,226.0 L234.2,224.6" stroke="#000" stroke-width="2.1" fill="none"/>
<path d="M214.8,223.5 L237.2,216.7 L234.2,224.6 L236.3,232.8 Z" fill="#000"/>
<path d="M287.3,203.1 L205.5,97.3" stroke="#000" stroke-width="2.1" fill="none"/>
<path d="M193.6,82.0 L213.5,94.4 L205.5,97.3 L200.7,104.4 Z" fill="#000"/>
<path d="M308.9,253.5 L291.5,401.9" stroke="#000" stroke-width="2.1" fill="none"/>
<path d="M289.2,421.2 L283.7,398.4 L291.5,401.9 L299.8,400.3 Z" fill="#000"/>
<path d="M589.3,443.4 L510.4,509.7" stroke="#000" stroke-width="2.1" fill="none"/>
<path d="M495.5,522.2 L507.1,501.8 L510.4,509.7 L517.6,514.3 Z" fill="#000"/>
<path d="M642.7,442.7 L723.9,506.6" stroke="#000" stroke-width="2.1" fill="none"/>
<path d="M739.1,518.6 L716.8,511.4 L723.9,506.6 L726.8,498.6 Z" fill="#000"/>
<path d="M313.90,484.80 V461.00" stroke="#ee0000" stroke-width="4.4" fill="none"/>
<path d="M313.90,437.30 L303.60,465.00 Q313.90,459.00 324.20,465.00 Z" fill="#ff0000"/>
<path d="M303.60,465.00 L313.90,437.30 L324.20,465.00" fill="none" stroke="#000" stroke-width="0.9" stroke-linejoin="miter"/>
<path d="M440.10,444.00 V467.75" stroke="#ee0000" stroke-width="4.4" fill="none"/>
<path d="M440.10,491.90 L429.65,463.75 Q440.10,469.75 450.55,463.75 Z" fill="#ff0000"/>
<path d="M429.65,463.75 L440.10,491.90 L450.55,463.75" fill="none" stroke="#000" stroke-width="0.9" stroke-linejoin="miter"/>
</svg></body></html>
